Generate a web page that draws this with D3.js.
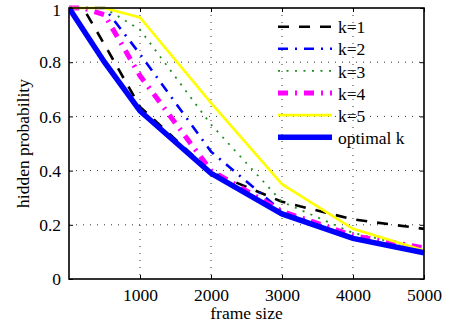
<!DOCTYPE html>
<html>
<head>
<meta charset="utf-8">
<script src="https://cdn.jsdelivr.net/npm/d3@7"></script>
<style>
  html, body { margin: 0; padding: 0; background: #fff; }
  svg { display: block; }
  svg text { font-family: "Liberation Serif", "Times New Roman", serif !important; fill: #000; }
</style>
</head>
<body>
<svg id="chart" width="449" height="332"></svg>
<script>
// ---- data ----
const frameSizes = [0, 200, 500, 1000, 2000, 3000, 4000, 5000];
const k1 = [1, 1, 0.865, 0.635, 0.395, 0.285, 0.22, 0.185];
const k2 = [1, 1, 1, 0.83, 0.47, 0.25, 0.155, 0.1];
const k3 = [1, 1, 1, 0.92, 0.57, 0.285, 0.17, 0.11];
const k4 = [1, 1, 0.975, 0.75, 0.40, 0.25, 0.16, 0.115];
const k5 = [1, 1, 1, 0.965, 0.65, 0.35, 0.185, 0.105];
const optimalK = [1, 0.92, 0.8, 0.62, 0.39, 0.24, 0.15, 0.097];
const seriesNames = ["k=1", "k=2", "k=3", "k=4", "k=5", "optimal k"];
const xTicks = [1000, 2000, 3000, 4000, 5000];
const yTicks = [0, 0.2, 0.4, 0.6, 0.8, 1];
const xLabel = "frame size";
const yLabel = "hidden probability";

// ---- styles ----
const styles = [
  { color: "#000000", width: 2.6, dash: "11,10" },
  { color: "#0000ff", width: 2.6, dash: "10,7,2,7" },
  { color: "#1f8f1f", width: 1.8, dash: "2,6.5" },
  { color: "#ff00ff", width: 5, dash: "10,7,2,7" },
  { color: "#ffff00", width: 2.6, dash: null },
  { color: "#0000ff", width: 5.5, dash: null }
];
const seriesValues = [k1, k2, k3, k4, k5, optimalK];

const svg = d3.select("#chart");
const L = 69, R = 424, T = 8, B = 279;
const FS = 17.5;

const x = d3.scaleLinear().domain([0, 5000]).range([L, R]);
const y = d3.scaleLinear().domain([0, 1]).range([B, T]);

// grid
const grid = svg.append("g");
grid.selectAll("line.gx").data(xTicks.filter(d => d < 5000)).enter().append("line")
  .attr("x1", d => x(d)).attr("x2", d => x(d)).attr("y1", T).attr("y2", B)
  .attr("stroke", "#333").attr("stroke-width", 1).attr("stroke-dasharray", "1,6");
grid.selectAll("line.gy").data(yTicks.filter(d => d > 0 && d < 1)).enter().append("line")
  .attr("x1", L).attr("x2", R).attr("y1", d => y(d)).attr("y2", d => y(d))
  .attr("stroke", "#333").attr("stroke-width", 1).attr("stroke-dasharray", "1,6");

// clip
svg.append("clipPath").attr("id", "clip").append("rect")
  .attr("x", L).attr("y", T - 3).attr("width", R - L + 3).attr("height", B - T + 3);

const line = d3.line().x(d => x(d[0])).y(d => y(d[1]));
const lines = svg.append("g").attr("clip-path", "url(#clip)");
seriesValues.forEach((vals, i) => {
  const pts = frameSizes.map((f, j) => [f, vals[j]]);
  const st = styles[i];
  lines.append("path").datum(pts)
    .attr("d", line)
    .attr("fill", "none")
    .attr("stroke", st.color)
    .attr("stroke-width", st.width)
    .attr("stroke-linejoin", "miter")
    .attr("stroke-dasharray", st.dash);
});

// axes
const xAxis = svg.append("g").attr("transform", `translate(0,${B})`)
  .call(d3.axisBottom(x).tickValues(xTicks).tickSizeInner(-4).tickSizeOuter(0).tickPadding(0)
    .tickFormat(d3.format("d")));
xAxis.attr("font-family", null).attr("font-size", null);
xAxis.selectAll("text").attr("y", 22).attr("dy", 0).style("font-size", FS + "px");
const xAxisTop = svg.append("g").attr("transform", `translate(0,${T})`)
  .call(d3.axisTop(x).tickValues(xTicks).tickSizeInner(-4).tickSizeOuter(0).tickFormat(""));
const yAxis = svg.append("g").attr("transform", `translate(${L},0)`)
  .call(d3.axisLeft(y).tickValues(yTicks).tickSizeInner(-4).tickSizeOuter(0).tickPadding(0)
    .tickFormat(d => String(d)));
yAxis.attr("font-family", null).attr("font-size", null);
yAxis.selectAll("text").attr("x", -8).attr("dy", "0.33em").style("font-size", FS + "px");
yAxis.selectAll("text").filter(d => d === 1).attr("dy", "0.42em");
const yAxisRight = svg.append("g").attr("transform", `translate(${R},0)`)
  .call(d3.axisRight(y).tickValues(yTicks).tickSizeInner(-4).tickSizeOuter(0).tickFormat(""));
[xAxis, xAxisTop, yAxis, yAxisRight].forEach(a => {
  a.select(".domain").remove();
  a.selectAll("line").attr("stroke", "#000").attr("stroke-width", 1);
});
// box
svg.append("rect").attr("x", L).attr("y", T).attr("width", R - L).attr("height", B - T)
  .attr("fill", "none").attr("stroke", "#000").attr("stroke-width", 1.6);

// axis labels
svg.append("text").attr("x", (L + R) / 2).attr("y", 319).attr("text-anchor", "middle")
  .style("font-size", FS + "px").text(xLabel);
svg.append("text").attr("transform", `translate(29,${(T + B) / 2}) rotate(-90)`)
  .attr("text-anchor", "middle").style("font-size", FS + "px").text(yLabel);

// legend
const lg = svg.append("g");
seriesNames.forEach((name, i) => {
  const st = styles[i];
  const cy = 26.7 + i * 22.1;
  lg.append("line").attr("x1", 278).attr("x2", 332).attr("y1", cy).attr("y2", cy)
    .attr("stroke", st.color).attr("stroke-width", st.width)
    .attr("stroke-dasharray", st.dash);
  lg.append("text").attr("x", 338).attr("y", cy).attr("dy", "0.38em")
    .style("font-size", FS + "px").text(name);
});
</script>
</body>
</html>
